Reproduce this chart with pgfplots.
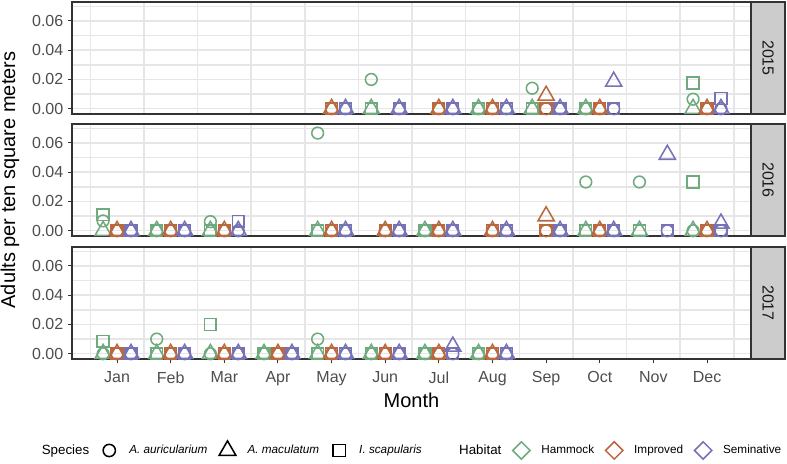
\documentclass[border=0pt]{standalone}
\usepackage{pgfplots}
\pgfplotsset{compat=1.18}
\usepackage{pgfplotstable}
\usepackage{fontspec}
\setmainfont{Liberation Sans}

\definecolor{hamm}{RGB}{110,170,125}
\definecolor{impr}{RGB}{186,104,62}
\definecolor{semi}{RGB}{118,114,182}
\definecolor{gridc}{RGB}{230,230,230}
\definecolor{framec}{RGB}{51,51,51}
\definecolor{tickc}{RGB}{77,77,77}
\definecolor{stripc}{RGB}{204,204,204}

% m = month, c = A. auricularium, t = A. maculatum, s = I. scapularis
\pgfplotstableread{
m c t s
6 0.02 0 0
8 0 0 0
9 0.014 0 0
10 0 0 0
12 0.0065 0 0.0175
}\hamA
\pgfplotstableread{
m c t s
5 0 0 0
7 0 0 0
8 0 0 0
9 0 0.009 0
10 0 0 0
12 0 0 0
}\impA
\pgfplotstableread{
m c t s
5 0 0 0
6 0 0 0
7 0 0 0
8 0 0 0
9 0 0 0
10 0 0.0186 0
12 0 0 0.007
}\semA
\pgfplotstableread{
m c t s
1 0.0067 0 0.011
2 0 0 0
3 0.0062 0 0
5 0.0667 0 0
7 0 0 0
10 0.0333 0 0
11 0.0333 0 0
12 0 0 0.0333
}\hamB
\pgfplotstableread{
m c t s
1 0 0 0
2 0 0 0
3 0 0 0
5 0 0 0
6 0 0 0
7 0 0 0
8 0 0 0
9 0 0.01 0
10 0 0 0
12 0 0 0
}\impB
\pgfplotstableread{
m c t s
1 0 0 0
2 0 0 0
3 0 0 0.0065
5 0 0 0
6 0 0 0
7 0 0 0
8 0 0 0
9 0 0 0
10 0 0 0
11 0 0.052 0
12 0 0.005 0
}\semB
\pgfplotstableread{
m c t s
1 0 0 0.0085
2 0.01 0 0
3 0 0 0.02
4 0 0 0
5 0.01 0 0
6 0 0 0
7 0 0 0
8 0 0 0
}\hamC
\pgfplotstableread{
m c t s
1 0 0 0
2 0 0 0
3 0 0 0
4 0 0 0
5 0 0 0
6 0 0 0
7 0 0 0
8 0 0 0
}\impC
\pgfplotstableread{
m c t s
1 0 0 0
2 0 0 0
3 0 0 0
4 0 0 0
5 0 0 0
6 0 0 0
7 0 0.005 0
8 0 0 0
}\semC

\pgfplotsset{
  pt/.style={forget plot, only marks, mark options={solid, line width=1.15pt}},
  panel/.style={
    scale only axis, width=509.25pt, height=84pt, clip=false,
    xmin=0.16, xmax=12.82, ymin=-0.0036, ymax=0.0729,
    xtick={0.5,1.5,...,12.5}, xticklabels={}, xtick style={draw=none},
    ytick={0,0.02,0.04,0.06}, minor ytick={0.01,0.03,0.05,0.07},
    xmajorgrids, ymajorgrids, yminorgrids,
    major grid style={gridc, line width=1.1pt},
    minor grid style={gridc, line width=1.1pt},
    axis line style={framec, line width=1pt},
    tick align=outside, major tick length=3pt, minor tick length=0pt,
    ytick style={framec, line width=0.8pt},
    xtick pos=bottom, ytick pos=left,
    tick label style={font=\fontsize{12}{14}\selectfont, text=tickc},
    scaled y ticks=false,
    yticklabel style={/pgf/number format/fixed, /pgf/number format/fixed zerofill,
      /pgf/number format/precision=2, /pgf/number format/assume math mode=true},
  },
  mk/.style={legend image code/.code={%
    \path[draw=none, fill=none] (-13pt,0pt) -- (13pt,0pt);
    \draw[##1] plot coordinates {(0pt,0pt)};}},
}

\newcommand{\habitat}[3]{%
  \addplot[pt, #3, mark=o, mark size=4.4pt] table[x expr=\thisrow{m}+(#2), y=c] {#1};
  \addplot[pt, #3, mark=triangle, mark size=7pt] table[x expr=\thisrow{m}+(#2), y=t] {#1};
  \addplot[pt, #3, mark=square, mark size=4.4pt] table[x expr=\thisrow{m}+(#2), y=s] {#1};
}
\newcommand{\strip}[1]{%
  \draw[fill=stripc, draw=framec, line width=1pt] (rel axis cs:1,0) rectangle (rel axis cs:1.0501,1);
  \node[rotate=-90, font=\fontsize{12}{14}\selectfont, text=black!90] at (rel axis cs:1.02505,0.5) {#1};
}

\begin{document}
\begin{tikzpicture}
\useasboundingbox (0,0) rectangle (590.25pt,-347.25pt);

\begin{axis}[panel, at={(54pt,-1.5pt)}, anchor=north west]
  \habitat{\hamA}{-0.26}{hamm}
  \habitat{\impA}{0}{impr}
  \habitat{\semA}{0.26}{semi}
  \strip{2015}
\end{axis}

\begin{axis}[panel, at={(54pt,-93pt)}, anchor=north west,
  ylabel={Adults per ten square meters},
  ylabel style={at={(axis description cs:-0.0913,0.5)}, anchor=center, font=\fontsize{15}{18}\selectfont}]
  \habitat{\hamB}{-0.26}{hamm}
  \habitat{\impB}{0}{impr}
  \habitat{\semB}{0.26}{semi}
  \strip{2016}
\end{axis}

\begin{axis}[panel, at={(54pt,-185.25pt)}, anchor=north west,
  extra x ticks={1,...,12},
  extra x tick labels={Jan,Feb,Mar,Apr,May,Jun,Jul,Aug,Sep,Oct,Nov,Dec},
  extra x tick style={grid=none, xtick style={draw=framec, line width=0.8pt},
    xticklabel style={yshift=-3pt}},
  xlabel={Month},
  xlabel style={at={(axis description cs:0.5,-0.366)}, anchor=center, font=\fontsize{15}{18}\selectfont},
  legend style={at={(axis description cs:0.5,-0.8125)}, anchor=center, draw=none, fill=none,
    legend columns=-1, font=\fontsize{8.8}{10}\selectfont},
  legend cell align=left]
  \habitat{\hamC}{-0.26}{hamm}
  \habitat{\impC}{0}{impr}
  \habitat{\semC}{0.26}{semi}
  \strip{2017}
  \addlegendimage{empty legend}
  \addlegendentry{\fontsize{10}{12}\selectfont Species}
  \addlegendimage{mk, only marks, black, mark=o, mark size=4.6pt, mark options={line width=1.15pt}}
  \addlegendentry{\textit{A. auricularium}}
  \addlegendimage{mk, only marks, black, mark=triangle, mark size=7.2pt, mark options={line width=1.15pt}}
  \addlegendentry{\textit{A. maculatum}}
  \addlegendimage{mk, only marks, black, mark=square, mark size=4.6pt, mark options={line width=1.15pt}}
  \addlegendentry{\textit{I. scapularis}}
  \addlegendimage{empty legend}
  \addlegendentry{\hspace{24pt}\fontsize{10}{12}\selectfont Habitat}
  \addlegendimage{mk, only marks, hamm, mark=square, mark size=4.6pt, mark options={rotate=45, line width=1.15pt}}
  \addlegendentry{Hammock}
  \addlegendimage{mk, only marks, impr, mark=square, mark size=4.6pt, mark options={rotate=45, line width=1.15pt}}
  \addlegendentry{Improved}
  \addlegendimage{mk, only marks, semi, mark=square, mark size=4.6pt, mark options={rotate=45, line width=1.15pt}}
  \addlegendentry{Seminative}
\end{axis}
\end{tikzpicture}
\end{document}
